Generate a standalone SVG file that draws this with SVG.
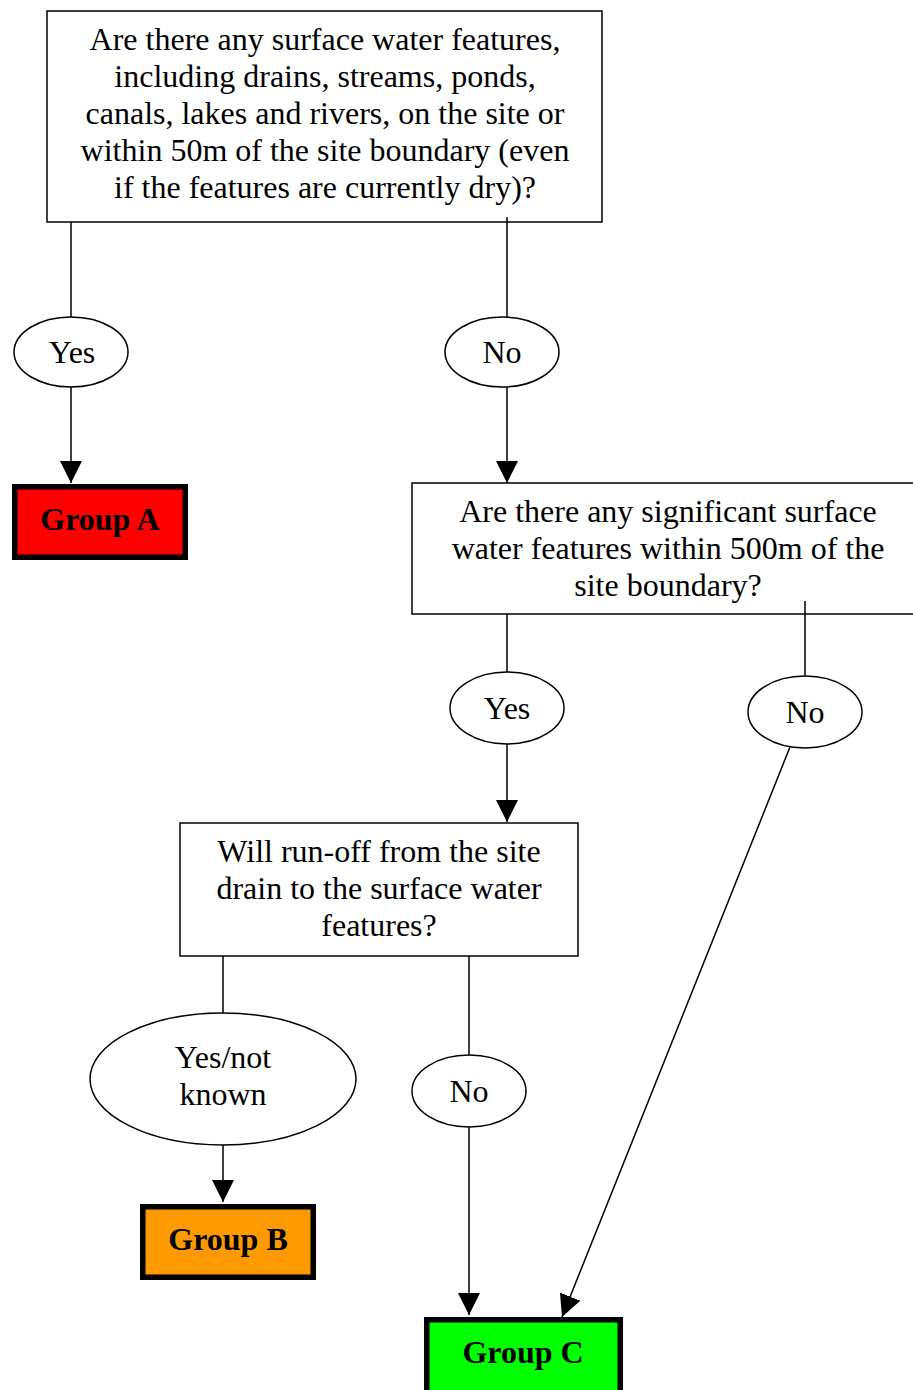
<svg xmlns="http://www.w3.org/2000/svg" width="913" height="1390" viewBox="0 0 913 1390">
  <style>
    .box { fill: #ffffff; stroke: #000000; stroke-width: 1.5; }
    .oval { fill: #ffffff; stroke: #000000; stroke-width: 1.5; }
    .group { stroke: #000000; stroke-width: 5.5; }
    .txt { font-family: "Liberation Serif", "Times New Roman", serif; font-size: 32px; fill: #000000; text-anchor: middle; }
    .gtxt { font-family: "Liberation Serif", "Times New Roman", serif; font-size: 32px; font-weight: bold; fill: #000000; text-anchor: middle; }
    .link { fill: none; stroke: #000000; stroke-width: 1.5; }
  </style>
  <defs>
    <marker id="arrow" markerUnits="userSpaceOnUse" markerWidth="22" markerHeight="22" viewBox="0 0 20 20" refX="20" refY="10" orient="auto">
      <path d="M0,0 L20,10 L0,20 z" fill="#000000"/>
    </marker>
  </defs>

  <rect width="913" height="1390" fill="#ffffff"/>

  <!-- question 1 -->
  <g id="q1">
    <rect class="box" x="47" y="11" width="555" height="211"/>
    <text class="txt" x="325" y="50">Are there any surface water features,</text>
    <text class="txt" x="325" y="87">including drains, streams, ponds,</text>
    <text class="txt" x="325" y="124">canals, lakes and rivers, on the site or</text>
    <text class="txt" x="325" y="161">within 50m of the site boundary (even</text>
    <text class="txt" x="325" y="198">if the features are currently dry)?</text>
  </g>

  <g id="q1-yes">
    <ellipse class="oval" cx="71" cy="352" rx="57" ry="35"/>
    <text class="txt" x="72" y="363">Yes</text>
  </g>

  <g id="q1-no">
    <ellipse class="oval" cx="502" cy="352" rx="57" ry="35"/>
    <text class="txt" x="502" y="363">No</text>
  </g>

  <g id="group-a">
    <rect class="group" x="14.75" y="486.75" width="170.5" height="70.5" fill="#ff0000"/>
    <text class="gtxt" x="100" y="530">Group A</text>
  </g>

  <!-- question 2 -->
  <g id="q2">
    <rect class="box" x="412" y="483" width="520" height="131"/>
    <text class="txt" x="668" y="522">Are there any significant surface</text>
    <text class="txt" x="668" y="559">water features within 500m of the</text>
    <text class="txt" x="668" y="596">site boundary?</text>
  </g>

  <g id="q2-yes">
    <ellipse class="oval" cx="507" cy="708" rx="57" ry="36"/>
    <text class="txt" x="507" y="719">Yes</text>
  </g>

  <g id="q2-no">
    <ellipse class="oval" cx="805" cy="712" rx="57" ry="36"/>
    <text class="txt" x="805" y="723">No</text>
  </g>

  <!-- question 3 -->
  <g id="q3">
    <rect class="box" x="180" y="823" width="398" height="133"/>
    <text class="txt" x="379" y="862">Will run-off from the site</text>
    <text class="txt" x="379" y="899">drain to the surface water</text>
    <text class="txt" x="379" y="936">features?</text>
  </g>

  <g id="q3-yes">
    <ellipse class="oval" cx="223" cy="1079" rx="133" ry="66"/>
    <text class="txt" x="223" y="1068">Yes/not</text>
    <text class="txt" x="223" y="1105">known</text>
  </g>

  <g id="q3-no">
    <ellipse class="oval" cx="469" cy="1091" rx="57" ry="36"/>
    <text class="txt" x="469" y="1102">No</text>
  </g>

  <g id="group-b">
    <rect class="group" x="142.75" y="1206.75" width="170.5" height="70.5" fill="#ff9900"/>
    <text class="gtxt" x="228" y="1250">Group B</text>
  </g>

  <g id="group-c">
    <rect class="group" x="426.75" y="1319.75" width="193.5" height="75" fill="#00ff00"/>
    <text class="gtxt" x="523" y="1363">Group C</text>
  </g>

  <!-- connectors, drawn on top so stubs inside boxes stay visible -->
  <g id="connectors">
    <line class="link" x1="71" y1="222" x2="71" y2="317"/>
    <line class="link" x1="71" y1="387" x2="71" y2="483" marker-end="url(#arrow)"/>
    <line class="link" x1="507" y1="217" x2="507" y2="317"/>
    <line class="link" x1="507" y1="387" x2="507" y2="483" marker-end="url(#arrow)"/>
    <line class="link" x1="507" y1="614" x2="507" y2="672"/>
    <line class="link" x1="507" y1="744" x2="507" y2="822" marker-end="url(#arrow)"/>
    <line class="link" x1="805" y1="601" x2="805" y2="676"/>
    <line class="link" x1="790" y1="747" x2="562" y2="1317" marker-end="url(#arrow)"/>
    <line class="link" x1="223" y1="956" x2="223" y2="1013"/>
    <line class="link" x1="223" y1="1145" x2="223" y2="1202" marker-end="url(#arrow)"/>
    <line class="link" x1="469" y1="956" x2="469" y2="1055"/>
    <line class="link" x1="469" y1="1127" x2="469" y2="1315" marker-end="url(#arrow)"/>
  </g>
</svg>
